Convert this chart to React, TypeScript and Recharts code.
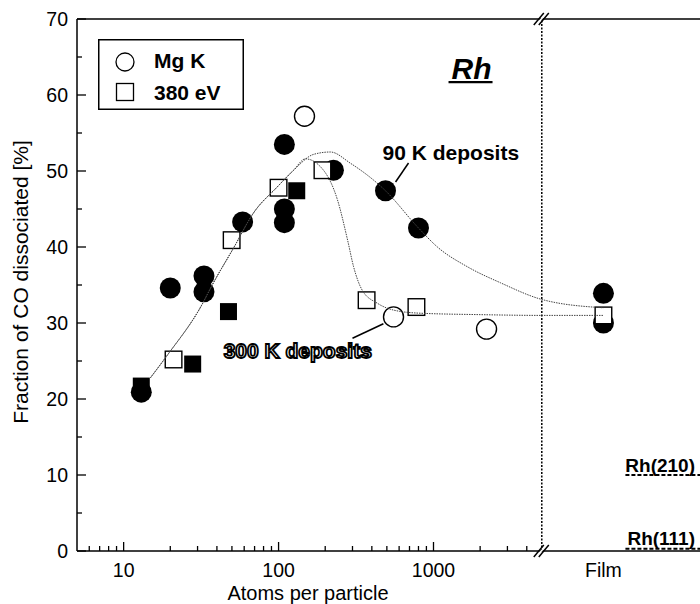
import React from 'react';
import {
  ComposedChart,
  Scatter,
  Line,
  XAxis,
  YAxis,
  ReferenceLine,
  ReferenceDot,
  Legend,
} from 'recharts';

const FONT = '"Liberation Sans", Arial, Helvetica, sans-serif';

// x positions on the log axis: "Film" is drawn beyond the axis break
const X_MIN = 5;
const BREAK_X = 5000;
const FILM = 12500;
const X_MAX = 52500;

const xTicks = [6, 7, 8, 9, 10, 20, 30, 40, 50, 60, 70, 80, 90, 100, 200, 300, 400, 500, 600, 700, 800, 900, 1000, 2000, 3000, 4000, FILM];
const xMajor = [10, 100, 1000];
const yTicks = [0, 5, 10, 15, 20, 25, 30, 35, 40, 45, 50, 55, 60, 65, 70];

// filled circles (Mg K, 90 K deposits)
const filledCircleX = [13, 20, 33, 33, 58.6, 109, 109, 109, 226, 490, 800, FILM, FILM];
const filledCircleY = [20.9, 34.6, 36.2, 34.1, 43.3, 53.5, 45.0, 43.2, 50.1, 47.4, 42.5, 33.9, 30.0];
// filled squares (380 eV, 90 K deposits)
const filledSquareX = [13, 27.9, 47.5, 131];
const filledSquareY = [21.7, 24.6, 31.5, 47.4];
// open circles (Mg K, 300 K deposits)
const openCircleX = [147, 552, 2200];
const openCircleY = [57.2, 30.8, 29.2];
// open squares (380 eV, 300 K deposits)
const openSquareX = [21, 49.8, 100, 192, 370, 776, FILM];
const openSquareY = [25.2, 40.9, 47.8, 50.1, 33.0, 32.1, 31.0];

// guide curves
const fit90X = [14.9, 19.2, 31.4, 38, 51, 69, 98, 125, 169, 216, 292, 490, 800, 1060, 1655, 2700, 5000, FILM];
const fit90Y = [22.8, 25.8, 32.1, 35.3, 39.8, 44.5, 47.9, 50.1, 52.2, 52.5, 51.0, 47.4, 42.5, 40.0, 37.4, 35.3, 33.1, 32.0];
const fit300X = [14.9, 19.2, 31.4, 38, 51, 69, 98, 125, 149, 195, 240, 279, 305, 347, 434, 552, 800, 2000, 5000, FILM];
const fit300Y = [22.8, 25.8, 32.1, 35.3, 39.8, 44.5, 47.9, 50.1, 51.6, 50.1, 46.2, 40.9, 37.4, 34.3, 32.6, 31.7, 31.3, 31.1, 31.0, 31.0];

const toPts = (xs: number[], ys: number[]) => xs.map((x, i) => ({ x, y: ys[i] }));

const filledCircles = toPts(filledCircleX, filledCircleY);
const filledSquares = toPts(filledSquareX, filledSquareY);
const openCircles = toPts(openCircleX, openCircleY);
const openSquares = toPts(openSquareX, openSquareY);
const fit90 = toPts(fit90X, fit90Y);
const fit300 = toPts(fit300X, fit300Y);

const FilledCircle = (p: any) => <circle cx={p.cx} cy={p.cy} r={10.5} fill="#000" />;
const OpenCircle = (p: any) => <circle cx={p.cx} cy={p.cy} r={10} fill="#fff" stroke="#000" strokeWidth={1.4} />;
const FilledSquare = (p: any) => <rect x={p.cx - 8.5} y={p.cy - 8.5} width={17} height={17} fill="#000" />;
const OpenSquare = (p: any) => (
  <rect x={p.cx - 8.3} y={p.cy - 8.3} width={16.6} height={16.6} fill="#fff" stroke="#000" strokeWidth={1.4} />
);

const XTick = (props: any) => {
  const { x, y, payload } = props;
  const v = payload.value;
  if (v === FILM) {
    return (
      <text x={x} y={y + 26} textAnchor="middle" fontSize={19.5} fontFamily={FONT} fill="#000">
        Film
      </text>
    );
  }
  const major = xMajor.includes(v);
  return (
    <g>
      <line x1={x} x2={x} y1={y} y2={y - (major ? 9 : 5)} stroke="#000" strokeWidth={1.3} />
      {major && (
        <text x={x} y={y + 26} textAnchor="middle" fontSize={19.5} fontFamily={FONT} fill="#000">
          {v}
        </text>
      )}
    </g>
  );
};

const YTick = (props: any) => {
  const { x, y, payload } = props;
  const v = payload.value;
  const major = v % 10 === 0;
  return (
    <g>
      <line x1={x} x2={x + (major ? 9 : 5)} y1={y} y2={y} stroke="#000" strokeWidth={1.3} />
      {major && (
        <text x={x - 9} y={y + 7} textAnchor="end" fontSize={19.5} fontFamily={FONT} fill="#000">
          {v}
        </text>
      )}
    </g>
  );
};

const BreakMark = (p: any) => {
  const { cx, cy } = p;
  return (
    <g>
      <polygon points={`${cx - 6},${cy + 5} ${cx + 3},${cy - 5} ${cx + 5},${cy - 5} ${cx - 4},${cy + 5}`} fill="#fff" />
      <line x1={cx - 8} y1={cy + 6} x2={cx + 2} y2={cy - 6} stroke="#000" strokeWidth={1.5} />
      <line x1={cx - 3} y1={cy + 6} x2={cx + 7} y2={cy - 6} stroke="#000" strokeWidth={1.5} />
    </g>
  );
};

const makeText = (txt: string, opts: any) => (p: any) => (
  <text
    x={p.cx + (opts.dx || 0)}
    y={p.cy}
    textAnchor={opts.anchor || 'start'}
    fontSize={opts.size}
    fontWeight="bold"
    fontStyle={opts.italic ? 'italic' : 'normal'}
    fontFamily={FONT}
    fill={opts.fill || '#000'}
    stroke={opts.stroke || 'none'}
    strokeWidth={opts.strokeWidth || 0}
  >
    {txt}
  </text>
);

const RhTitle = (p: any) => (
  <g>
    <text x={p.cx} y={p.cy} textAnchor="middle" fontSize={30} fontWeight="bold" fontStyle="italic" fontFamily={FONT} fill="#000">
      Rh
    </text>
    <line x1={p.cx - 23} x2={p.cx + 21} y1={p.cy + 3} y2={p.cy + 3} stroke="#000" strokeWidth={2.2} />
  </g>
);

const LegendBox = () => (
  <svg width={146} height={71} style={{ display: 'block' }}>
    <rect x={0.75} y={0.75} width={144.5} height={69.5} fill="#fff" stroke="#000" strokeWidth={1.5} />
    <circle cx={27} cy={23} r={9} fill="#fff" stroke="#000" strokeWidth={1.3} />
    <text x={56} y={29} fontSize={21} fontWeight="bold" fontFamily={FONT} fill="#000">
      Mg K
    </text>
    <rect x={18.5} y={44.5} width={17} height={17} fill="#fff" stroke="#000" strokeWidth={1.3} />
    <text x={56} y={61} fontSize={21} fontWeight="bold" fontFamily={FONT} fill="#000">
      380 eV
    </text>
  </svg>
);

export default function App() {
  return (
    <div style={{ position: 'absolute', left: 0, top: 0, width: 700, height: 604, background: '#fff' }}>
      <ComposedChart width={700} height={604} margin={{ top: 19, right: 0, bottom: 0, left: 0 }}>
        <XAxis
          dataKey="x"
          type="number"
          scale="log"
          domain={[X_MIN, X_MAX]}
          allowDataOverflow
          ticks={xTicks}
          interval={0}
          tickSize={0}
          tickMargin={0}
          tick={<XTick />}
          axisLine={{ stroke: '#000', strokeWidth: 1.5 }}
          height={53}
          label={{
            content: () => (
              <text x={308} y={600} textAnchor="middle" fontSize={20} fontFamily={FONT} fill="#000">
                Atoms per particle
              </text>
            ),
          }}
        />
        <YAxis
          dataKey="y"
          type="number"
          domain={[0, 70]}
          ticks={yTicks}
          interval={0}
          tickSize={0}
          tickMargin={0}
          tick={<YTick />}
          axisLine={{ stroke: '#000', strokeWidth: 1.5 }}
          width={77}
          label={{
            content: () => (
              <text
                x={28}
                y={282}
                transform="rotate(-90 28 282)"
                textAnchor="middle"
                fontSize={21}
                fontFamily={FONT}
                fill="#000"
              >
                Fraction of CO dissociated [%]
              </text>
            ),
          }}
        />

        <ReferenceLine y={70} stroke="#000" strokeWidth={1.5} />
        <ReferenceLine x={BREAK_X} stroke="#000" strokeWidth={1.5} strokeDasharray="2 1.5" />
        <ReferenceLine
          segment={[{ x: 17330, y: 10 }, { x: X_MAX, y: 10 }]}
          stroke="#000"
          strokeWidth={2}
          strokeDasharray="4 2"
        />
        <ReferenceLine
          segment={[{ x: 17330, y: 0.3 }, { x: X_MAX, y: 0.3 }]}
          stroke="#000"
          strokeWidth={2}
          strokeDasharray="4 2"
        />
        <ReferenceLine segment={[{ x: 690, y: 51.05 }, { x: 569, y: 48.55 }]} stroke="#000" strokeWidth={1.5} />
        <ReferenceLine segment={[{ x: 300, y: 28.0 }, { x: 475, y: 29.9 }]} stroke="#000" strokeWidth={1.5} />

        <Scatter data={filledSquares} shape={FilledSquare} isAnimationActive={false} legendType="none" />
        <Scatter data={filledCircles} shape={FilledCircle} isAnimationActive={false} legendType="none" />
        <Scatter data={openCircles} shape={OpenCircle} isAnimationActive={false} legendType="none" />
        <Scatter data={openSquares} shape={OpenSquare} isAnimationActive={false} legendType="none" />

        <Line
          data={fit90}
          dataKey="y"
          type="monotone"
          stroke="#444"
          strokeWidth={1}
          strokeDasharray="1.5 1"
          dot={false}
          activeDot={false}
          isAnimationActive={false}
          legendType="none"
          {...({ zIndex: 700 } as any)}
        />
        <Line
          data={fit300}
          dataKey="y"
          type="monotone"
          stroke="#444"
          strokeWidth={1}
          strokeDasharray="1.5 1"
          dot={false}
          activeDot={false}
          isAnimationActive={false}
          legendType="none"
          {...({ zIndex: 700 } as any)}
        />

        <ReferenceDot x={BREAK_X} y={70} r={0} shape={BreakMark} ifOverflow="visible" {...({ zIndex: 800 } as any)} />
        <ReferenceDot x={BREAK_X} y={0} r={0} shape={BreakMark} ifOverflow="visible" {...({ zIndex: 800 } as any)} />
        <ReferenceDot x={1760} y={62.1} r={0} shape={RhTitle} ifOverflow="visible" />
        <ReferenceDot x={469} y={51.4} r={0} shape={makeText('90 K deposits', { size: 21 })} ifOverflow="visible" />
        <ReferenceDot
          x={44.2}
          y={25.4}
          r={0}
          shape={makeText('300 K deposits', { size: 21, fill: '#fff', stroke: '#000', strokeWidth: 1.8 })}
          ifOverflow="visible"
        />
        <ReferenceDot x={X_MAX} y={10.4} r={0} shape={makeText('Rh(210)', { size: 19, anchor: 'end', dx: -5 })} ifOverflow="visible" />
        <ReferenceDot x={X_MAX} y={0.8} r={0} shape={makeText('Rh(111)', { size: 19, anchor: 'end', dx: -5 })} ifOverflow="visible" />

        <Legend
          content={LegendBox}
          layout="horizontal"
          verticalAlign="middle"
          align="center"
          wrapperStyle={{ left: 98, top: 39, width: 146, height: 71 }}
        />
      </ComposedChart>
    </div>
  );
}
